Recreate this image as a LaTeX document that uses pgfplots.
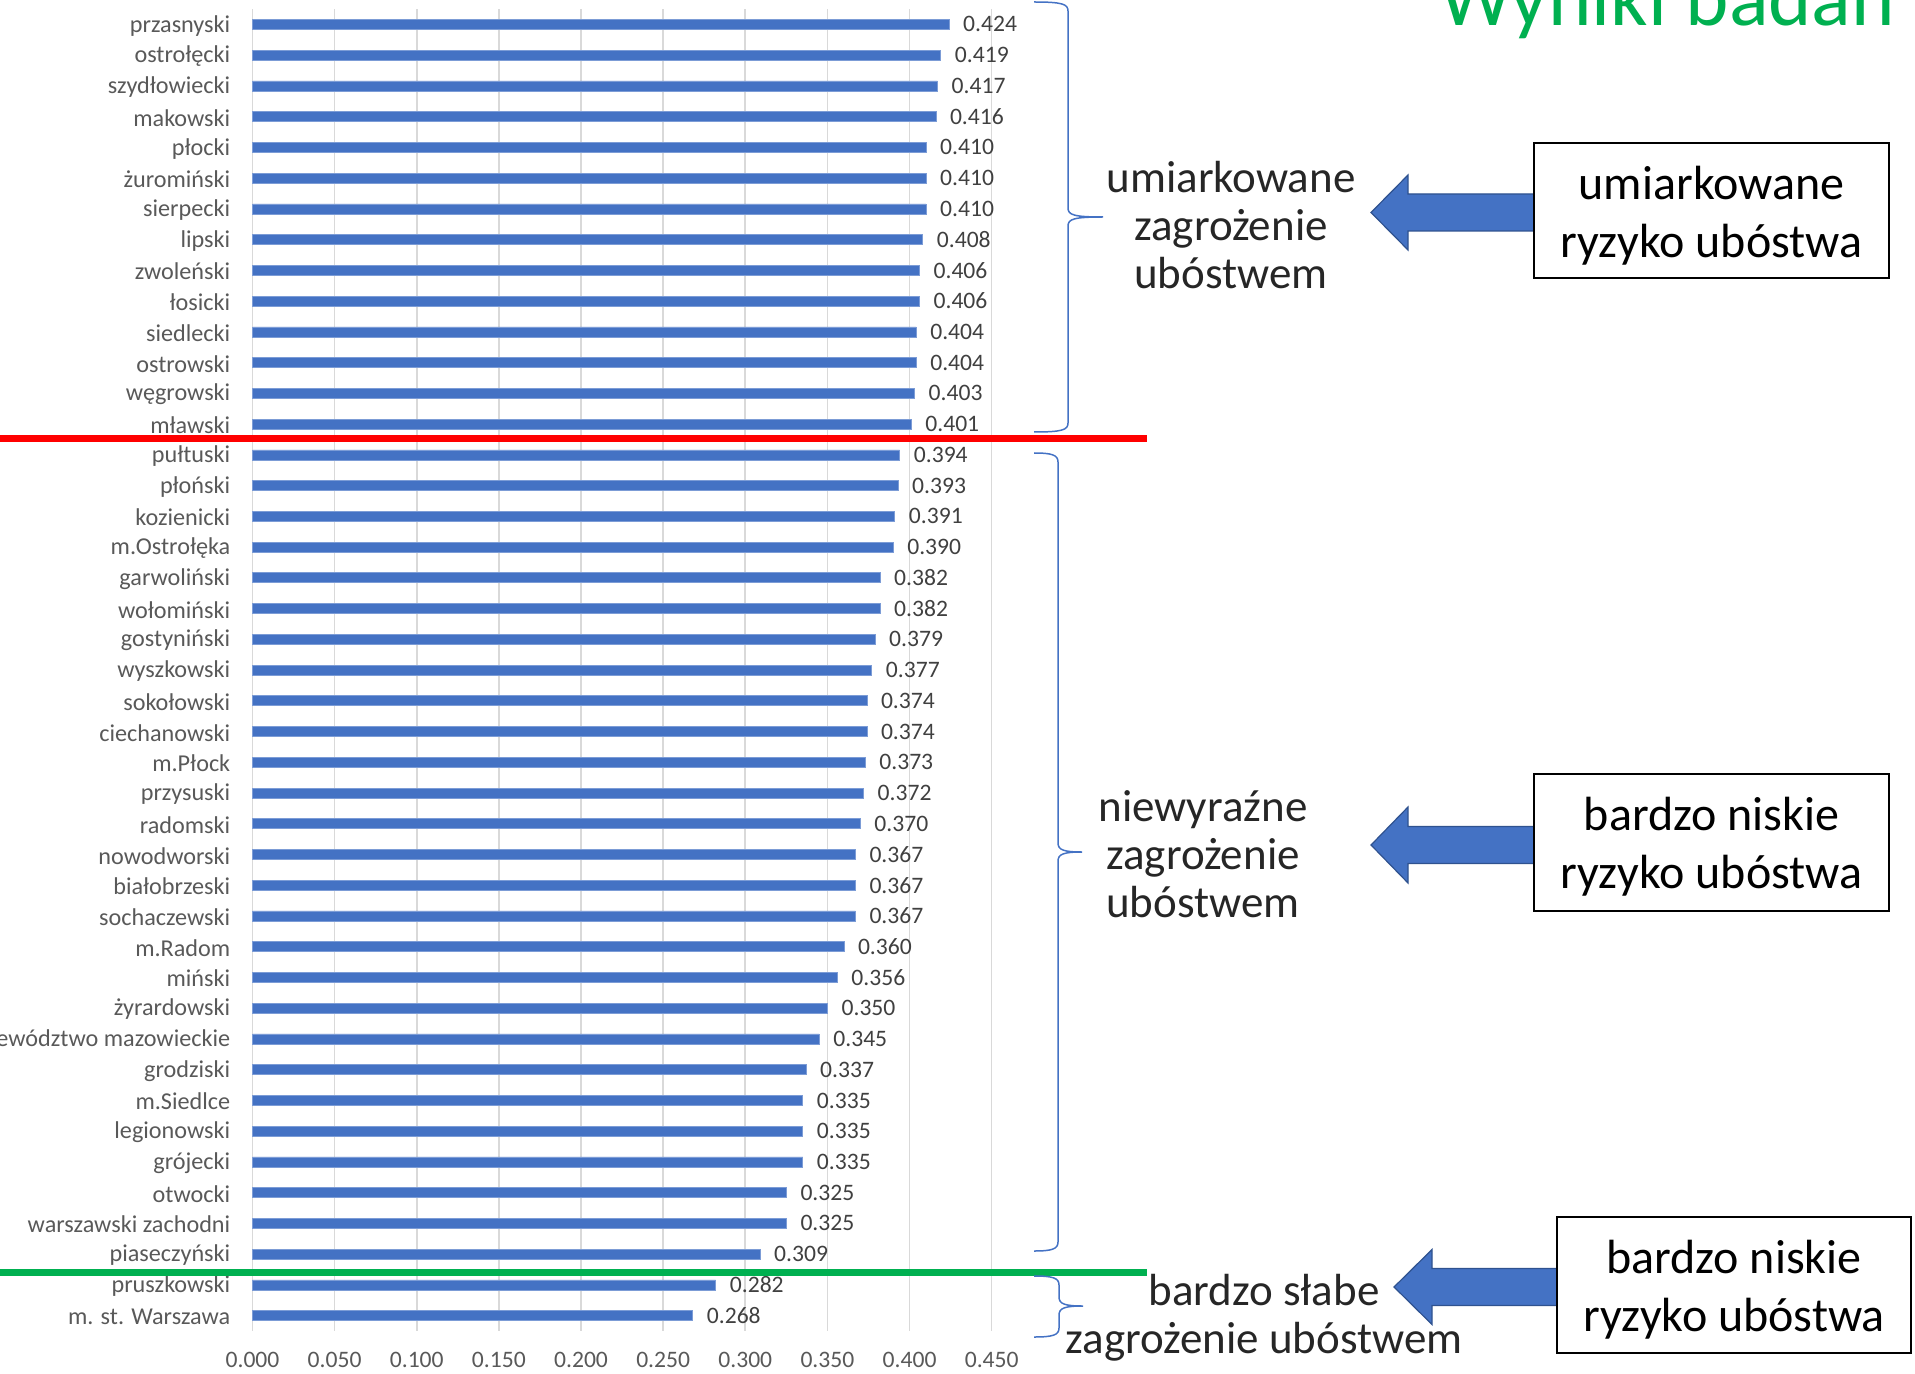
\documentclass[border=0pt]{standalone}
\usepackage{fontspec}
\setmainfont{Carlito}
\usepackage{pgfplots}
\pgfplotsset{compat=1.18}
\definecolor{barblue}{HTML}{4472C4}
\definecolor{arrowedge}{HTML}{2F528F}
\definecolor{gridgray}{HTML}{D9D9D9}
\definecolor{labgray}{HTML}{595959}
\definecolor{valgray}{HTML}{404040}
\definecolor{txtdark}{HTML}{262626}
\definecolor{titlegreen}{HTML}{00B050}
\definecolor{linered}{HTML}{FF0000}
\newcommand\chartfont{\fontsize{12.1pt}{14pt}\selectfont}
\newcommand\valfont{\fontsize{11.8pt}{14pt}\selectfont}
\newcommand\annfont{\fontsize{22.5pt}{27pt}\selectfont}
\newcommand\boxfont{\fontsize{24pt}{28pt}\selectfont}
\newcommand\mybrace[6]{% xl, xv, xt, ytop, ybot, ymid (px)
  \draw[barblue, line width=0.75pt]
    (#1,#4) .. controls (#2-6,#4) and (#2,#4+2) .. (#2,#4+9)
    -- (#2,#6-9) .. controls (#2,#6-2) and (#2+6,#6) .. (#3,#6)
    (#3,#6) .. controls (#2+6,#6) and (#2,#6+2) .. (#2,#6+9)
    -- (#2,#5-9) .. controls (#2,#5-2) and (#2-6,#5) .. (#1,#5);}
\newcommand\myarrow[5]{% tip x, base x, right x, center y, head half
  \filldraw[fill=barblue, draw=arrowedge, line width=0.6pt]
    (#1,#4) -- (#2,#4-#5) -- (#2,#4-18.5) -- (#3,#4-18.5) -- (#3,#4+18.5)
    -- (#2,#4+18.5) -- (#2,#4+#5) -- cycle;}
\begin{document}
\begin{tikzpicture}
\useasboundingbox (0,0) rectangle (957.5pt,686.5pt);
\clip (0,0) rectangle (957.5pt,686.5pt);
\begin{axis}[
  at={(126.25pt,21pt)}, anchor=south west,
  width=369.6pt, height=661pt, scale only axis,
  xbar, bar width=5pt,
  xmin=0, xmax=0.45,
  ymin=-0.5, ymax=42.5, y dir=reverse,
  xtick={0,0.05,0.1,0.15,0.2,0.25,0.3,0.35,0.4,0.45},
  xticklabels={0.000,0.050,0.100,0.150,0.200,0.250,0.300,0.350,0.400,0.450},
  ytick={0,...,42},
  yticklabels={przasnyski,ostrołęcki,szydłowiecki,makowski,płocki,żuromiński,sierpecki,lipski,zwoleński,łosicki,siedlecki,ostrowski,węgrowski,mławski,pułtuski,płoński,kozienicki,m.Ostrołęka,garwoliński,wołomiński,gostyniński,wyszkowski,sokołowski,ciechanowski,m.Płock,przysuski,radomski,nowodworski,białobrzeski,sochaczewski,m.Radom,miński,żyrardowski,województwo mazowieckie,grodziski,m.Siedlce,legionowski,grójecki,otwocki,warszawski zachodni,piaseczyński,pruszkowski,m. st. Warszawa},
  xmajorgrids, grid style={draw=gridgray, line width=0.8pt},
  axis line style={draw=none},
  tick style={draw=none}, major tick length=0pt,
  tick label style={font=\chartfont, text=labgray},
  xticklabel style={font=\valfont, yshift=-7pt},
  yticklabel style={xshift=-7.6pt, yshift=-0.6pt},
  clip=false,
  point meta=explicit symbolic,
  nodes near coords,
  nodes near coords style={font=\valfont, text=valgray, anchor=west, xshift=3.6pt},
]
\addplot[fill=barblue, draw=barblue!70!white, line width=0.3pt] coordinates {
(0.424,0) [0.424]
(0.419,1) [0.419]
(0.417,2) [0.417]
(0.416,3) [0.416]
(0.410,4) [0.410]
(0.410,5) [0.410]
(0.410,6) [0.410]
(0.408,7) [0.408]
(0.406,8) [0.406]
(0.406,9) [0.406]
(0.404,10) [0.404]
(0.404,11) [0.404]
(0.403,12) [0.403]
(0.401,13) [0.401]
(0.394,14) [0.394]
(0.393,15) [0.393]
(0.391,16) [0.391]
(0.390,17) [0.390]
(0.382,18) [0.382]
(0.382,19) [0.382]
(0.379,20) [0.379]
(0.377,21) [0.377]
(0.374,22) [0.374]
(0.374,23) [0.374]
(0.373,24) [0.373]
(0.372,25) [0.372]
(0.370,26) [0.370]
(0.367,27) [0.367]
(0.367,28) [0.367]
(0.367,29) [0.367]
(0.360,30) [0.360]
(0.356,31) [0.356]
(0.350,32) [0.350]
(0.345,33) [0.345]
(0.337,34) [0.337]
(0.335,35) [0.335]
(0.335,36) [0.335]
(0.335,37) [0.335]
(0.325,38) [0.325]
(0.325,39) [0.325]
(0.309,40) [0.309]
(0.282,41) [0.282]
(0.268,42) [0.268]
};
\end{axis}
\begin{scope}[x=0.5pt, y=-0.5pt, yshift=686.5pt]
  % separator lines
  \draw[linered, line width=3.5pt] (0,439) -- (1147,439);
  \draw[titlegreen, line width=3.5pt] (0,1272) -- (1147,1272);
  % braces
  \mybrace{1034}{1068}{1103}{2}{432}{217}
  \mybrace{1034}{1058}{1082}{453}{1251}{852}
  \mybrace{1034}{1059}{1083}{1276}{1337}{1306}
  % left annotations
  \node[anchor=base, inner sep=0, font=\annfont, text=txtdark] at (1231,193) {umiarkowane};
  \node[anchor=base, inner sep=0, font=\annfont, text=txtdark] at (1231,241) {zagrożenie};
  \node[anchor=base, inner sep=0, font=\annfont, text=txtdark] at (1231,289) {ubóstwem};
  \node[anchor=base, inner sep=0, font=\annfont, text=txtdark] at (1203,821.5) {niewyraźne};
  \node[anchor=base, inner sep=0, font=\annfont, text=txtdark] at (1203,869.5) {zagrożenie};
  \node[anchor=base, inner sep=0, font=\annfont, text=txtdark] at (1203,917.5) {ubóstwem};
  \node[anchor=base, inner sep=0, font=\annfont, text=txtdark] at (1264,1305.5) {bardzo słabe};
  \node[anchor=base, inner sep=0, font=\annfont, text=txtdark] at (1264,1353) {zagrożenie ubóstwem};
  % arrows
  \myarrow{1371}{1408}{1540}{212.5}{37.5}
  \myarrow{1371}{1408}{1540}{845}{38}
  \myarrow{1394}{1432}{1563}{1287}{37.5}
  % boxes
  \filldraw[fill=white, draw=black, line width=1pt] (1534,143) rectangle (1889,278);
  \filldraw[fill=white, draw=black, line width=1pt] (1534,774) rectangle (1889,911);
  \filldraw[fill=white, draw=black, line width=1pt] (1557,1217) rectangle (1911,1353);
  \node[anchor=base, inner sep=0, font=\boxfont, text=black] at (1711.5,199.5) {umiarkowane};
  \node[anchor=base, inner sep=0, font=\boxfont, text=black] at (1711.5,258) {ryzyko ubóstwa};
  \node[anchor=base, inner sep=0, font=\boxfont, text=black] at (1711.5,830.5) {bardzo niskie};
  \node[anchor=base, inner sep=0, font=\boxfont, text=black] at (1711.5,888.5) {ryzyko ubóstwa};
  \node[anchor=base, inner sep=0, font=\boxfont, text=black] at (1734,1273) {bardzo niskie};
  \node[anchor=base, inner sep=0, font=\boxfont, text=black] at (1734,1331) {ryzyko ubóstwa};
  % title (cut off at top)
  \node[anchor=base west, inner sep=0, font=\fontsize{41.3pt}{48pt}\selectfont, text=titlegreen] at (1439,26) {Wyniki badań};
\end{scope}
\end{tikzpicture}
\end{document}
